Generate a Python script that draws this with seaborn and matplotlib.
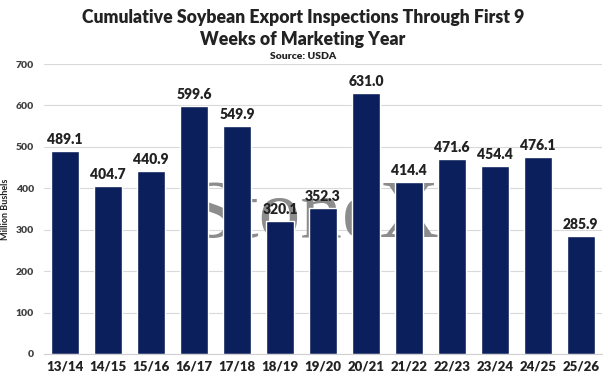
import numpy as np
import pandas as pd
import matplotlib
matplotlib.use("Agg")
import matplotlib.pyplot as plt
import seaborn as sns

sns.set_style('white')
plt.rcParams['font.family'] = ['Lato', 'DejaVu Sans']

# data
years = ['13/14', '14/15', '15/16', '16/17', '17/18', '18/19', '19/20',
         '20/21', '21/22', '22/23', '23/24', '24/25', '25/26']
inspections = [489.1, 404.7, 440.9, 599.6, 549.9, 320.1, 352.3,
               631.0, 414.4, 471.6, 454.4, 476.1, 285.9]
yticks = [0, 100, 200, 300, 400, 500, 600, 700]

df = pd.DataFrame({'year': years, 'value': inspections})

fig = plt.figure(figsize=(6.06, 3.79), dpi=100)
ax = fig.add_axes([0.072, 0.066, 0.922, 0.765])

sns.barplot(data=df, x='year', y='value', color='#0a1f5c', saturation=1,
            width=0.66, ax=ax, zorder=2)

ax.set_ylim(0, 700)
ax.set_yticks(yticks)
ax.set_yticklabels([str(t) for t in yticks], fontsize=7.5, fontweight='heavy', color='#404040')
ax.tick_params(axis='x', labelsize=9.5, length=0, pad=5)
for lbl in ax.get_xticklabels():
    lbl.set_fontweight('heavy')
    lbl.set_color('#222222')
ax.tick_params(axis='y', length=0, pad=7)
ax.grid(axis='y', color='#d9d9d9', linewidth=0.8, zorder=0)
ax.set_axisbelow(True)
for s in ['top', 'right', 'left']:
    ax.spines[s].set_visible(False)
ax.spines['bottom'].set_color('#d0d0d0')
ax.set_xlabel('')
ax.set_ylabel('Million Bushels', fontsize=6.5, fontweight='bold', color='#222222', labelpad=4)
ax.set_xlim(-0.5, len(years) - 0.5)

for i, v in enumerate(inspections):
    ax.text(i, v + 12, f'{v:.1f}', ha='center', va='bottom', fontsize=10,
            fontweight='heavy', color='#222222', zorder=4)

# watermark behind the bars
ax.text(0.485, 0.47, 'StoneX', transform=ax.transAxes, ha='center', va='center',
        fontsize=60, family='Liberation Serif', color='#8c8c8c', zorder=1)

tx = 0.5
fig.text(tx, 0.953, 'Cumulative Soybean Export Inspections Through First 9',
         ha='center', va='center', fontsize=12.7, fontweight='heavy', color='#222222')
fig.text(tx, 0.896, 'Weeks of Marketing Year',
         ha='center', va='center', fontsize=12.7, fontweight='heavy', color='#222222')
fig.text(tx, 0.850, 'Source: USDA', ha='center', va='center', fontsize=7.5,
         fontweight='heavy', color='#222222')

fig.savefig('out.png', dpi=100, facecolor='white')
